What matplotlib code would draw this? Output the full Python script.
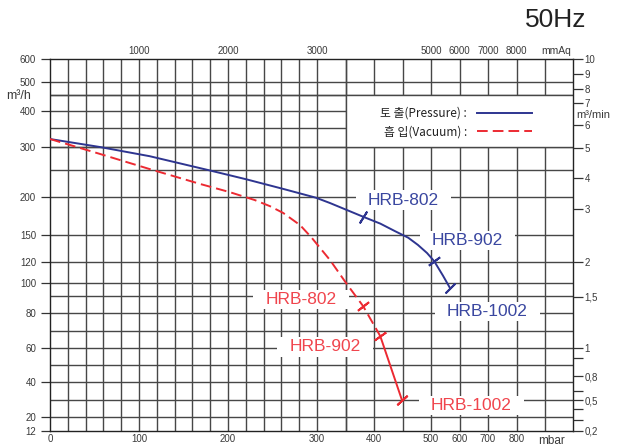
import numpy as np
import matplotlib
matplotlib.use("Agg")
import matplotlib.pyplot as plt
from matplotlib.path import Path
from matplotlib.lines import Line2D
from matplotlib.patches import Rectangle
from matplotlib.ticker import NullLocator
from matplotlib.font_manager import FontProperties

# ---------------- data ----------------
pressure_mbar = [0, 56, 112, 180, 220, 262, 299, 323, 381, 411, 437, 460, 477, 493, 511, 542, 567]
pressure_flow = [321, 300, 280, 249, 233, 215, 199, 192, 174, 165, 155, 147, 139, 130, 121, 107, 96]

vacuum_mbar = [0, 56, 112, 169, 202, 230, 247, 262, 281, 294, 323, 351, 381, 411, 449]
vacuum_flow = [321, 285, 252, 224, 209, 196, 188, 179, 163, 147, 122, 100, 84, 67, 30]

models = ["HRB-802", "HRB-902", "HRB-1002"]
pressure_model_mbar = [381, 511, 567]
pressure_model_flow = [174, 121, 96]
vacuum_model_mbar = [381, 411, 449]
vacuum_model_flow = [84, 67, 30]

bottom_ticks = [0, 100, 200, 300, 400, 500, 600, 700, 800]
top_ticks_mbar = [100, 200, 300, 500, 600, 700, 800]
top_labels = ["1000", "2000", "3000", "5000", "6000", "7000", "8000"]
left_ticks = [12, 20, 40, 60, 80, 100, 120, 150, 200, 300, 400, 500, 600]
right_ticks = [0.2, 0.5, 0.8, 1, 1.5, 2, 3, 4, 5, 6, 7, 8, 9, 10]
right_labels = ["0,2", "0,5", "0,8", "1", "1,5", "2", "3", "4", "5", "6", "7", "8", "9", "10"]
right_minor = [0.3, 0.4, 0.6, 0.9]
x_grid = list(range(20, 301, 20)) + [350, 400, 450, 500, 600, 700, 800, 900]
y_grid = [20, 30, 40, 50, 60, 70, 80, 90, 100, 120, 150, 200, 250, 300, 350, 400, 450, 500]

# ------------- chart paper (piecewise-linear rulings) -------------
X_KNOTS = [0, 300, 350, 400, 450, 500, 600, 700, 800, 900, 1000]
X_PAPER = [0, 267, 295.5, 324, 352.5, 381, 409.5, 438, 466.5, 495, 523]
Y_KNOTS = [12, 20, 30, 40, 50, 60, 70, 80, 90, 100, 120, 150, 200, 250, 300, 350, 400, 450, 500, 600]
Y_PAPER = [0, 14, 31, 49, 66, 83, 100, 118, 135, 148, 169, 196, 234, 261, 284, 303, 320, 336, 349, 372]
R_KNOTS = [0.2, 0.3, 0.4, 0.5, 0.6, 0.8, 0.9, 1, 1.5, 2, 3, 4, 5, 6, 7, 8, 9, 10]
R_PAPER = [0, 11, 22, 31, 40, 55, 73, 83, 134, 169, 222, 253, 283, 306, 328, 342, 357, 372]


def paper_scale(knots, paper):
    k = np.asarray(knots, float)
    p = np.asarray(paper, float)

    def _map(v, a, b):
        v = np.asarray(v, float)
        out = np.interp(v, a, b)
        out = np.where(v < a[0], b[0] + (v - a[0]) * (b[1] - b[0]) / (a[1] - a[0]), out)
        out = np.where(v > a[-1], b[-1] + (v - a[-1]) * (b[-1] - b[-2]) / (a[-1] - a[-2]), out)
        return out

    return (lambda v: _map(v, k, p)), (lambda v: _map(v, p, k))


xf = paper_scale(X_KNOTS, X_PAPER)
yf = paper_scale(Y_KNOTS, Y_PAPER)
rf = paper_scale(R_KNOTS, R_PAPER)

BLUE = "#2e3590"
RED = "#ec2a32"
BLUE_TXT = "#3a47a0"
RED_TXT = "#f0454d"
GRID = "#474747"
TXT = "#3a3a3a"
FONT = ["Liberation Sans", "DejaVu Sans"]
KFONT = ["Noto Sans CJK KR", "DejaVu Sans"]
plt.rcParams["font.family"] = FONT


def label_box(x0, y0, width, height, mutation_size):
    # white knock-out behind curve labels, wider than tall
    px = 0.7 * mutation_size
    py = 0.12 * mutation_size
    x0, y0 = x0 - px, y0 - py
    x1, y1 = x0 + width + 2 * px, y0 + height + 2 * py
    return Path([(x0, y0), (x1, y0), (x1, y1), (x0, y1), (x0, y0)], closed=True)


fig = plt.figure(figsize=(6.21, 4.47), dpi=100)
ax = fig.add_axes([50 / 621, 16 / 447, 523 / 621, 372 / 447])
ax.set_xscale("function", functions=xf)
ax.set_yscale("function", functions=yf)
ax.set_xlim(0, 1000)
ax.set_ylim(12, 600)

for v in x_grid:
    ax.axvline(v, color=GRID, lw=1.0, zorder=1)
for v in y_grid:
    ax.axhline(v, color=GRID, lw=1.0, zorder=1)

# legend panel knocks out the rulings inside it
ax.add_patch(Rectangle((350, 300), 650, 150, facecolor="white", edgecolor="none", zorder=1.5))
ax.axvline(350, color=GRID, lw=1.0, zorder=1.6)
ax.axhline(300, color=GRID, lw=1.0, zorder=1.6)
ax.axhline(450, color=GRID, lw=1.0, zorder=1.6)

# curves
ax.plot(pressure_mbar, pressure_flow, color=BLUE, lw=1.4, zorder=4,
        solid_joinstyle="round")
split = vacuum_mbar.index(vacuum_model_mbar[1])
ax.plot(vacuum_mbar[:split + 1], vacuum_flow[:split + 1], color=RED, lw=1.4,
        linestyle=(0, (5.5, 2.6)), zorder=4)
ax.plot(vacuum_mbar[split:], vacuum_flow[split:], color=RED, lw=1.4, zorder=4)

# model ticks across the curves
p_tick_angles = [58, 37, 45]
v_tick_angles = [38, 35, 42]
for x, y, a in zip(pressure_model_mbar, pressure_model_flow, p_tick_angles):
    ax.plot([x], [y], marker=(2, 2, a - 90), markersize=10, markeredgewidth=1.4,
            color=BLUE, zorder=5)
for x, y, a in zip(vacuum_model_mbar, vacuum_model_flow, v_tick_angles):
    ax.plot([x], [y], marker=(2, 2, a - 90), markersize=10, markeredgewidth=1.4,
            color=RED, zorder=5)

# model labels
p_label_at = [(452, 196), (628, 144), (697, 81)]
v_label_at = [(282, 88), (314, 60.6), (641, 27)]
for name, (x, y) in zip(models, p_label_at):
    ax.text(x, y, name, color=BLUE_TXT, fontsize=12.5, ha="center", va="center", zorder=3,
            bbox=dict(boxstyle=label_box, facecolor="white", edgecolor="none"))
for name, (x, y) in zip(models, v_label_at):
    ax.text(x, y, name, color=RED_TXT, fontsize=12.5, ha="center", va="center", zorder=3,
            bbox=dict(boxstyle=label_box, facecolor="white", edgecolor="none"))

# legend
handles = [Line2D([], [], color=BLUE, lw=1.4),
           Line2D([], [], color=RED, lw=1.4, linestyle=(0, (5.5, 2.6)))]
leg = ax.legend(handles, ["토 출(Pressure) :", "흡 입(Vacuum) :"], markerfirst=False,
                frameon=False, loc="center", bbox_to_anchor=(0.776, 0.829),
                prop=FontProperties(family=KFONT, size=8.5), handlelength=4.6,
                handletextpad=0.9, labelspacing=0.45, borderpad=0)
for t in leg.get_texts():
    t.set_color("#222222")

# bottom axis (mbar)
ax.set_xticks(bottom_ticks)
ax.set_xticklabels([str(v) for v in bottom_ticks])
ax.tick_params(axis="x", length=0, pad=2.5, labelsize=7, labelcolor=TXT)
ax.annotate("mbar", xy=(925, 0), xycoords=ax.get_xaxis_transform(), xytext=(0, -7.5),
            textcoords="offset points", ha="center", va="center", fontsize=8.5, color=TXT)

# left axis (m³/h)
ax.set_yticks(left_ticks)
ax.set_yticklabels([str(v) for v in left_ticks])
ax.tick_params(axis="y", direction="out", length=6.5, width=0.9, pad=3.5, labelsize=7,
               labelcolor=TXT, color="#333333")
ax.xaxis.set_minor_locator(NullLocator())
ax.yaxis.set_minor_locator(NullLocator())
for s in ax.spines.values():
    s.set_color("#222222")
    s.set_linewidth(1.0)

# right axis (m³/min)
axr = ax.twinx()
axr.set_yscale("function", functions=rf)
axr.set_ylim(0.2, 10)
axr.set_yticks(right_ticks)
axr.set_yticklabels(right_labels)
axr.set_yticks(right_minor, minor=True)
axr.tick_params(axis="y", which="both", direction="out", length=7, width=0.9, pad=1.5,
                labelsize=7, labelcolor=TXT, color="#333333")
for s in axr.spines.values():
    s.set_visible(False)

# top axis (mmAq)
axt = ax.twiny()
axt.set_xscale("function", functions=xf)
axt.set_xlim(0, 1000)
axt.set_xticks(top_ticks_mbar)
axt.set_xticklabels(top_labels)
axt.xaxis.set_minor_locator(NullLocator())
axt.tick_params(axis="x", length=0, pad=2.0, labelsize=7, labelcolor=TXT)
for s in axt.spines.values():
    s.set_visible(False)
axt.annotate("mmAq", xy=(939, 1), xycoords=axt.get_xaxis_transform(), xytext=(0, 5.5),
             textcoords="offset points", ha="center", va="center", fontsize=7.5, color=TXT)

# unit captions and title
fig.text(6 / 621, 1 - 96 / 447, "m³/h", ha="left", va="center", fontsize=9, color=TXT)
fig.text(576 / 621, 1 - 114.5 / 447, "m³/min", ha="left", va="center", fontsize=8, color=TXT)
fig.text(586 / 621, 1 - 20 / 447, "50Hz", ha="right", va="center", fontsize=19, color="#222222")

fig.savefig("out.png", dpi=100)
